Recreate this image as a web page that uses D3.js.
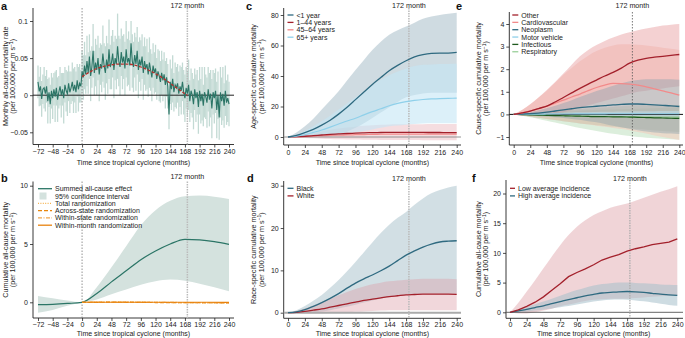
<!DOCTYPE html>
<html>
<head>
<meta charset="utf-8">
<script src="https://cdn.jsdelivr.net/npm/d3@7"></script>
<style>
  body { margin: 0; background: #fff; }
  svg { font-family: "Liberation Sans", Arial, sans-serif; }
  .axis text { font-size: 7px; fill: #222; }
  .axis line { stroke: #222; stroke-width: 0.8; }
  .axis path { display: none; }
  .atitle { font-size: 7.2px; fill: #222; }
  .xtitle { font-size: 7px; fill: #222; }
  .legend { font-size: 7px; fill: #222; }
  .letter { font-size: 11px; font-weight: bold; fill: #111; }
  .mark { font-size: 7.2px; fill: #222; }
</style>
</head>
<body>
<svg id="fig" width="685" height="338"></svg>
<script>
// ---- data ----
// panel a: monthly rate, every 2 months from -72 to 240
const aMonths = d3.range(-72, 241, 2);
const aRate = [
  0.018, 0.005, 0.012, -0.005, 0.008, 0.010,
  0.002, 0.012, -0.008, 0.004, -0.012, 0.006,
  -0.004, 0.008, -0.002, 0.010, -0.006, 0.004,
  0.012, 0.000, 0.008, -0.004, 0.014, 0.006,
  0.002, 0.016, 0.004, 0.010, 0.018, 0.006,
  0.014, 0.004, 0.020, 0.008, 0.016, 0.012,
  0.032, 0.024, 0.040, 0.028, 0.046, 0.030,
  0.052, 0.026, 0.038, 0.060, 0.030, 0.044,
  0.034, 0.050, 0.028, 0.042, 0.036, 0.056,
  0.040, 0.030, 0.048, 0.036, 0.062, 0.038,
  0.044, 0.056, 0.034, 0.050, 0.042, 0.066,
  0.046, 0.038, 0.058, 0.044, 0.052, 0.036,
  0.062, 0.044, 0.050, 0.040, 0.070, 0.046,
  0.038, 0.054, 0.042, 0.060, 0.034, 0.048,
  0.040, 0.052, 0.030, 0.046, 0.036, 0.042,
  0.028, 0.044, 0.034, 0.024, 0.040, 0.030,
  0.036, 0.022, 0.032, 0.026, 0.018, 0.030,
  0.020, 0.028, 0.014, 0.024, 0.012, -0.026,
  0.018, 0.008, 0.022, 0.004, 0.014, 0.010,
  0.016, 0.002, 0.012, 0.006, 0.018, 0.004,
  -0.004, 0.010, 0.002, 0.014, -0.008, 0.006,
  0.000, -0.012, 0.008, -0.004, 0.004, -0.016,
  0.006, -0.008, 0.002, -0.014, 0.004, -0.002,
  -0.010, 0.008, -0.006, 0.002, -0.018, 0.004,
  -0.004, 0.006, -0.020, 0.000, -0.030, 0.004,
  -0.008, 0.002, -0.014, 0.006, -0.010, -0.004,
  -0.012
];
const aSpread = [
  0.022, 0.020, 0.026, 0.024, 0.020, 0.028,
  0.024, 0.022, 0.030, 0.020, 0.026, 0.024,
  0.028, 0.022, 0.034, 0.024, 0.030, 0.022,
  0.026, 0.030, 0.022, 0.034, 0.024, 0.028,
  0.030, 0.024, 0.028, 0.022, 0.026, 0.030,
  0.024, 0.028, 0.022, 0.030, 0.026, 0.022,
  0.028, 0.030, 0.032, 0.026, 0.034, 0.028,
  0.030, 0.034, 0.028, 0.036, 0.030, 0.032,
  0.034, 0.030, 0.036, 0.028, 0.032, 0.038,
  0.030, 0.036, 0.032, 0.034, 0.040, 0.030,
  0.036, 0.032, 0.038, 0.030, 0.034, 0.044,
  0.034, 0.038, 0.032, 0.036, 0.030, 0.036,
  0.038, 0.032, 0.036, 0.034, 0.030, 0.036,
  0.034, 0.030, 0.036, 0.032, 0.038, 0.030,
  0.034, 0.030, 0.036, 0.032, 0.030, 0.034,
  0.030, 0.034, 0.028, 0.032, 0.030, 0.028,
  0.032, 0.028, 0.030, 0.034, 0.028, 0.030,
  0.028, 0.030, 0.032, 0.026, 0.030, 0.020,
  0.030, 0.028, 0.032, 0.026, 0.030, 0.028,
  0.026, 0.030, 0.028, 0.032, 0.026, 0.030,
  0.032, 0.028, 0.030, 0.034, 0.028, 0.030,
  0.030, 0.034, 0.028, 0.032, 0.030, 0.036,
  0.032, 0.030, 0.036, 0.028, 0.034, 0.030,
  0.034, 0.030, 0.036, 0.032, 0.040, 0.030,
  0.034, 0.030, 0.038, 0.032, 0.030, 0.034,
  0.032, 0.036, 0.030, 0.034, 0.030, 0.032,
  0.030
];
const aFitMonths = [0, 12, 24, 36, 48, 60, 72, 84, 96, 108, 120, 132, 144, 156, 168, 172];
const aFit = [0.025, 0.031, 0.036, 0.039, 0.041, 0.042, 0.042, 0.041, 0.038, 0.034, 0.029, 0.023, 0.016, 0.009, 0.002, 0.0];

// panel b
const bMonths = [-72, -48, -24, 0, 24, 48, 72, 96, 120, 144, 168, 192, 216, 240];
const bSummed = [-0.2, -0.17, -0.1, 0, 0.75, 1.75, 2.7, 3.65, 4.4, 5.0, 5.4, 5.35, 5.2, 4.97];
const bHi = [0.55, 0.35, 0.15, 0, 1.3, 3.0, 4.8, 6.6, 7.9, 8.7, 9.1, 9.15, 9.05, 8.85];
const bLo = [-0.9, -0.65, -0.3, 0, 0.25, 0.7, 1.1, 1.5, 1.8, 1.95, 1.85, 1.6, 1.3, 0.95];
const randMonths = [0, 24, 48, 72, 96, 120, 144, 168, 192, 216, 240];
const randTotal = [0, 0.01, 0.02, 0.02, 0.01, 0, -0.02, -0.03, -0.04, -0.05, -0.05];
const randAcross = [0, 0, 0.01, 0, -0.01, -0.02, -0.03, -0.02, -0.03, -0.04, -0.05];
const randWithinState = [0, 0.01, 0, 0.01, 0, -0.01, -0.01, -0.02, -0.02, -0.03, -0.03];
const randWithinMonth = [0, 0, 0, 0, 0, 0, 0, 0, 0, 0, -0.01];

// panels c-f share a 12-month grid
const gridMonths = d3.range(0, 241, 12);

const under1Mean = [0, 1, 2.8, 5, 7.8, 11, 15, 19.5, 24.5, 29.5, 34.5, 39, 43.5, 47, 50, 52.5, 54, 54.8, 55, 55, 55.5];
const under1Hi = [0, 3, 7, 12, 18, 24, 30, 37, 44, 50.5, 57, 62.5, 67, 70, 72.5, 75, 77.5, 79, 80, 80.8, 81.5];
const under1Lo = [0, 0, 0, 0, 0, 0.5, 1.5, 3.5, 6, 9, 12.5, 16, 19.5, 23, 26, 27.5, 28.5, 29, 29, 29, 29];
const age65Mean = [0, 0.5, 1.5, 3, 4.6, 6.5, 8.5, 10.5, 12.3, 14.5, 16.6, 18.5, 20.5, 22, 23.2, 24, 24.6, 25, 25.1, 25.3, 25.5];
const age65Hi = [0, 1.5, 4, 7, 10.5, 14, 18, 22, 26, 30, 34, 37.5, 40.5, 43, 45, 46.5, 47.3, 47.6, 47.8, 47.9, 48];
const age65Lo = [0, 0, 0, 0, 0, 0.5, 1, 2, 3, 4, 5, 6, 7, 7.5, 8, 8.5, 8.8, 9, 9, 9, 9];
const age1to44Mean = [0, 0.2, 0.5, 0.9, 1.3, 1.7, 2.0, 2.3, 2.5, 2.7, 2.85, 2.95, 3.0, 3.05, 3.05, 3.0, 3.0, 2.95, 2.95, 2.9, 2.9];
const age1to44Hi = [0, 0.8, 1.8, 2.8, 3.8, 4.7, 5.5, 6.2, 6.8, 7.3, 7.7, 8.0, 8.2, 8.3, 8.4, 8.4, 8.4, 8.5, 8.5, 8.5, 8.5];
const age1to44Lo = [0, -0.3, -0.6, -0.9, -1.1, -1.3, -1.5, -1.6, -1.7, -1.8, -1.8, -1.9, -1.9, -2.0, -2.0, -2.0, -2.1, -2.1, -2.2, -2.2, -2.2];
const age45to64Mean = [0, 0.1, 0.3, 0.5, 0.8, 1.0, 1.2, 1.35, 1.5, 1.6, 1.7, 1.8, 1.85, 1.9, 1.95, 1.95, 1.95, 1.9, 1.9, 1.9, 1.85];

const blackMean = [0, 0.2, 0.7, 1.5, 2.4, 3.4, 4.5, 5.8, 7.0, 8.0, 8.9, 9.9, 11.0, 12.3, 13.6, 14.6, 15.5, 16.2, 16.7, 16.9, 17.0];
const blackHi = [0, 0.6, 1.6, 2.8, 4.2, 5.9, 7.7, 9.8, 12, 14.3, 16.6, 18.8, 20.8, 22.4, 23.8, 25.5, 27, 28.2, 29, 29.6, 30];
const blackLo = [0, 0, 0, 0.1, 0.3, 0.6, 1, 1.4, 1.9, 2.4, 2.9, 3.3, 3.7, 4.0, 4.2, 4.4, 4.5, 4.5, 4.5, 4.5, 4.5];
const whiteMean = [0, 0.1, 0.3, 0.6, 0.9, 1.3, 1.7, 2.1, 2.5, 2.9, 3.2, 3.5, 3.8, 4.0, 4.2, 4.3, 4.4, 4.4, 4.4, 4.4, 4.35];
const whiteHi = [0, 0.4, 1.0, 1.7, 2.5, 3.3, 4.1, 4.9, 5.6, 6.2, 6.7, 7.1, 7.4, 7.6, 7.8, 7.9, 8.0, 8.0, 8.0, 8.0, 7.9];
const whiteLo = [0, -0.1, -0.2, -0.2, -0.2, -0.1, 0, 0.1, 0.2, 0.3, 0.4, 0.5, 0.6, 0.6, 0.6, 0.6, 0.6, 0.6, 0.6, 0.6, 0.6];

const otherMean = [0, 0.07, 0.15, 0.26, 0.37, 0.55, 0.75, 0.95, 1.15, 1.34, 1.52, 1.7, 1.86, 2.05, 2.27, 2.4, 2.48, 2.53, 2.57, 2.61, 2.65];
const otherHi = [0, 0.2, 0.45, 0.75, 1.08, 1.43, 1.81, 2.2, 2.57, 2.85, 3.07, 3.25, 3.4, 3.53, 3.63, 3.72, 3.8, 3.87, 3.93, 3.97, 4.0];
const otherLo = [0, -0.05, -0.05, -0.05, 0, 0.05, 0.1, 0.2, 0.3, 0.4, 0.5, 0.6, 0.7, 0.8, 0.9, 1.0, 1.05, 1.1, 1.15, 1.2, 1.25];
const cardioMean = [0, 0.07, 0.16, 0.26, 0.37, 0.5, 0.63, 0.77, 0.9, 1.05, 1.19, 1.3, 1.37, 1.36, 1.34, 1.3, 1.22, 1.13, 1.04, 0.95, 0.85];
const cardioHi = [0, 0.2, 0.45, 0.75, 1.05, 1.4, 1.75, 2.05, 2.35, 2.6, 2.8, 2.95, 3.05, 3.1, 3.1, 3.08, 3.05, 3.0, 2.95, 2.9, 2.85];
const cardioLo = [0, -0.05, -0.1, -0.15, -0.2, -0.25, -0.3, -0.35, -0.4, -0.45, -0.5, -0.55, -0.6, -0.65, -0.7, -0.78, -0.85, -0.93, -1.0, -1.07, -1.13];
const neoMean = [0, 0.01, 0.03, 0.06, 0.1, 0.15, 0.2, 0.25, 0.3, 0.33, 0.36, 0.39, 0.42, 0.44, 0.46, 0.46, 0.44, 0.42, 0.4, 0.38, 0.35];
const neoHi = [0, 0.05, 0.1, 0.18, 0.27, 0.38, 0.5, 0.63, 0.77, 0.9, 1.03, 1.15, 1.27, 1.38, 1.47, 1.52, 1.55, 1.56, 1.56, 1.55, 1.53];
const neoLo = [0, -0.03, -0.05, -0.08, -0.1, -0.13, -0.16, -0.2, -0.24, -0.3, -0.35, -0.42, -0.5, -0.57, -0.63, -0.7, -0.76, -0.8, -0.83, -0.85, -0.87];
const motorMean = [0, 0.005, 0.01, 0.01, 0.015, 0.02, 0.02, 0.02, 0.025, 0.025, 0.025, 0.025, 0.03, 0.03, 0.03, 0.03, 0.03, 0.03, 0.03, 0.03, 0.03];
const motorHi = [0, 0.02, 0.03, 0.04, 0.05, 0.06, 0.07, 0.08, 0.09, 0.1, 0.11, 0.12, 0.12, 0.13, 0.13, 0.14, 0.14, 0.14, 0.15, 0.15, 0.15];
const motorLo = [0, -0.01, -0.02, -0.03, -0.03, -0.04, -0.05, -0.05, -0.06, -0.06, -0.07, -0.07, -0.07, -0.08, -0.08, -0.08, -0.08, -0.09, -0.09, -0.09, -0.09];
const infectMean = [0, -0.01, -0.02, -0.03, -0.04, -0.05, -0.06, -0.07, -0.08, -0.09, -0.1, -0.1, -0.11, -0.11, -0.12, -0.13, -0.14, -0.15, -0.16, -0.17, -0.18];
const infectHi = [0, 0.03, 0.06, 0.09, 0.12, 0.15, 0.18, 0.21, 0.24, 0.26, 0.28, 0.31, 0.33, 0.36, 0.38, 0.39, 0.4, 0.41, 0.41, 0.42, 0.42];
const infectLo = [0, -0.05, -0.1, -0.15, -0.2, -0.25, -0.3, -0.35, -0.4, -0.44, -0.48, -0.51, -0.55, -0.58, -0.62, -0.65, -0.68, -0.71, -0.73, -0.76, -0.78];
const respMean = [0, -0.005, -0.01, -0.02, -0.03, -0.04, -0.05, -0.06, -0.07, -0.075, -0.08, -0.085, -0.09, -0.095, -0.1, -0.105, -0.11, -0.115, -0.12, -0.12, -0.12];
const respHi = [0, 0.02, 0.04, 0.06, 0.08, 0.1, 0.12, 0.14, 0.16, 0.18, 0.2, 0.21, 0.22, 0.23, 0.24, 0.25, 0.26, 0.27, 0.28, 0.29, 0.3];
const respLo = [0, -0.06, -0.13, -0.2, -0.28, -0.36, -0.44, -0.52, -0.6, -0.67, -0.74, -0.8, -0.86, -0.91, -0.96, -1.0, -1.03, -1.06, -1.08, -1.1, -1.12];

const lowIncMean = [0, 0.4, 1.0, 1.7, 2.6, 3.7, 4.8, 6.0, 6.7, 7.3, 8.0, 8.8, 9.3, 9.7, 10.3, 10.7, 11.0, 11.4, 11.6, 11.8, 12.35];
const lowIncHi = [0, 1.6, 3.5, 5.4, 7.4, 9.4, 11.3, 13.0, 14.4, 15.5, 16.4, 17.0, 17.6, 18.0, 18.3, 18.8, 19.3, 19.8, 20.3, 20.7, 21.2];
const lowIncLo = [0, -0.2, -0.2, 0, 0.3, 0.6, 1.0, 1.3, 1.6, 1.9, 2.1, 2.2, 2.3, 2.3, 2.3, 2.4, 2.5, 2.6, 2.7, 2.8, 2.9];
const highIncMean = [0, 0.25, 0.5, 0.8, 1.1, 1.45, 1.8, 2.15, 2.45, 2.75, 3.0, 3.25, 3.35, 3.45, 3.5, 3.45, 3.35, 3.2, 3.05, 2.95, 2.85];
const highIncHi = [0, 0.45, 0.9, 1.35, 1.8, 2.3, 2.8, 3.3, 3.75, 4.15, 4.5, 4.75, 4.9, 5.0, 5.0, 4.95, 4.9, 4.8, 4.7, 4.65, 4.6];
const highIncLo = [0, 0.05, 0.15, 0.3, 0.45, 0.65, 0.85, 1.05, 1.3, 1.55, 1.8, 2.0, 2.1, 2.15, 2.1, 2.0, 1.85, 1.65, 1.45, 1.25, 1.1];

const ticksFull = [-72, -48, -24, 0, 24, 48, 72, 96, 120, 144, 168, 192, 216, 240];
const ticksPost = [0, 24, 48, 72, 96, 120, 144, 168, 192, 216, 240];
const markMonth = 172;

// ---- drawing ----
const svg = d3.select("#fig");
const fmt = d => (d < 0 ? "\u2212" + Math.abs(d) : "" + d);

function panel(p) {
  let g = svg.append("g");
  let x = d3.scaleLinear().domain(p.xd).range(p.xr);
  let y = d3.scaleLinear().domain(p.yd).range(p.yr);
  g.append("g").attr("class", "axis").attr("transform", `translate(0,${p.bottom})`)
    .call(d3.axisBottom(x).tickValues(p.xt).tickSize(3).tickPadding(p.pad).tickFormat(fmt));
  g.append("g").attr("class", "axis").attr("transform", `translate(${p.left},0)`)
    .call(d3.axisLeft(y).tickValues(p.yt).tickSize(3).tickPadding(2).tickFormat(fmt));
  g.append("line").attr("x1", p.left).attr("x2", p.right).attr("y1", p.bottom).attr("y2", p.bottom)
    .attr("stroke", "#222").attr("stroke-width", 0.9);
  g.append("line").attr("x1", p.left).attr("x2", p.left).attr("y1", p.top).attr("y2", p.bottom)
    .attr("stroke", "#222").attr("stroke-width", 0.9);
  // axis titles
  g.append("text").attr("class", "xtitle").attr("x", (x(p.xd[0]) + x(p.xd[1])) / 2).attr("y", p.bottom + p.titleGap)
    .attr("text-anchor", "middle").text("Time since tropical cyclone (months)");
  let yt = g.append("g").attr("transform", `translate(${p.tx},${(p.top + p.bottom) / 2}) rotate(-90)`);
  yt.append("text").attr("class", "atitle").attr("text-anchor", "middle").text(p.ytitle);
  let t2 = yt.append("text").attr("class", "atitle").attr("text-anchor", "middle").attr("y", 7.6);
  t2.append("tspan").text("(per 100,000 per m s");
  t2.append("tspan").attr("font-size", "5px").attr("dy", -2.6).text("\u22121");
  t2.append("tspan").attr("dy", 2.6).text(")");
  // panel letter
  svg.append("text").attr("class", "letter").attr("x", p.lx).attr("y", p.ly).text(p.letter);
  return { g: g, x: x, y: y, p: p };
}

function vline(P, m, color, width, dash) {
  P.g.append("line").attr("x1", P.x(m)).attr("x2", P.x(m)).attr("y1", P.p.top).attr("y2", P.p.bottom)
    .attr("stroke", color).attr("stroke-width", width).attr("stroke-dasharray", dash);
}
function markLabel(P, yy) {
  P.g.append("text").attr("class", "mark").attr("x", P.x(markMonth)).attr("y", yy)
    .attr("text-anchor", "middle").text("172 month");
}
function zeroLine(P, color, width) {
  P.g.append("line").attr("x1", P.p.left).attr("x2", P.p.right).attr("y1", P.y(0)).attr("y2", P.y(0))
    .attr("stroke", color).attr("stroke-width", width);
}
function band(P, months, lo, hi, fill, op) {
  let area = d3.area().curve(d3.curveMonotoneX)
    .x((d, i) => P.x(months[i])).y0((d, i) => P.y(lo[i])).y1((d, i) => P.y(hi[i]));
  P.g.append("path").attr("d", area(months)).attr("fill", fill).attr("fill-opacity", op);
}
function curve(P, months, vals, color, width, dash, curveType) {
  let line = d3.line().curve(curveType || d3.curveMonotoneX)
    .x((d, i) => P.x(months[i])).y((d, i) => P.y(vals[i]));
  P.g.append("path").attr("d", line(months)).attr("fill", "none").attr("stroke", color)
    .attr("stroke-width", width).attr("stroke-dasharray", dash || null);
}
function legend(P, items, lx, ly, step) {
  items.forEach((it, i) => {
    let yy = ly + i * step;
    if (it.box) {
      P.g.append("rect").attr("x", lx + 1.5).attr("y", yy - 3.5).attr("width", 7).attr("height", 7).attr("fill", it.box);
    } else {
      P.g.append("line").attr("x1", lx).attr("x2", lx + it.len).attr("y1", yy).attr("y2", yy)
        .attr("stroke", it.color).attr("stroke-width", it.w || 1.3).attr("stroke-dasharray", it.dash || null);
    }
    P.g.append("text").attr("class", "legend").attr("x", lx + it.len + 3).attr("y", yy + 2.5).text(it.label);
  });
}

const teal = "#2b7566";
const navy = "#2f6a80";
const darkRed = "#a3202b";
const pink = "#f28a8a";
const skyBlue = "#8fd0ea";

// ---------- a ----------
let A = panel({ xd: [-72, 240], xr: [38, 229], yd: [-0.05, 0.1], yr: [132.3, 21], xt: ticksFull, yt: [-0.05, 0, 0.05, 0.1],
  left: 33, right: 234, top: 8, bottom: 144.5, pad: 2, titleGap: 20, tx: 7.5, ytitle: "Monthly all-cause mortality rate", letter: "a", lx: 1, ly: 10 });
A.g.selectAll("line.err").data(aMonths).join("line").attr("class", "err")
  .attr("x1", d => A.x(d)).attr("x2", d => A.x(d))
  .attr("y1", (d, i) => A.y(aRate[i] - aSpread[i])).attr("y2", (d, i) => A.y(aRate[i] + aSpread[i]))
  .attr("stroke", "#c3dad4").attr("stroke-width", 1.3);
vline(A, 0, "#777", 0.8, "1.5,1.5");
vline(A, markMonth, "#bbb", 1.5, "1.5,1");
markLabel(A, 8);
zeroLine(A, "#222", 1);
curve(A, aMonths, aRate, teal, 1.1, null, d3.curveLinear);
curve(A, aFitMonths, aFit, "#b5312c", 1.3, "3,1.6");

// ---------- b ----------
let B = panel({ xd: [-72, 240], xr: [38, 229], yd: [0, 10], yr: [302.3, 185.7], xt: ticksFull, yt: [0, 5, 10],
  left: 33, right: 234, top: 181.5, bottom: 318, pad: 1, titleGap: 17.8, tx: 7.5, ytitle: "Cumulative all-cause mortality", letter: "b", lx: 1, ly: 182 });
band(B, bMonths, bLo, bHi, "#d4e2de", 1);
vline(B, 0, "#777", 0.8, "1.5,1.5");
vline(B, markMonth, "#bbb", 1.5, "1.5,1");
markLabel(B, 178.5);
curve(B, bMonths, bSummed, teal, 1.2);
curve(B, randMonths, randTotal, "#f6b24e", 1.2, "1,1.4");
curve(B, randMonths, randAcross, "#e8860c", 1.2, "4,2");
curve(B, randMonths, randWithinState, "#f0a64e", 1.2, "4,1.5,1,1.5");
curve(B, randMonths, randWithinMonth, "#e8820e", 1.1);
legend(B, [
  { label: "Summed all-cause effect", color: teal, len: 14 },
  { label: "95% confidence interval", box: "#d4e2de", len: 14 },
  { label: "Total randomization", color: "#f6b24e", len: 14, dash: "1,1.4" },
  { label: "Across-state randomization", color: "#e8860c", len: 14, dash: "4,2" },
  { label: "Within-state randomization", color: "#f0a64e", len: 14, dash: "4,1.5,1,1.5" },
  { label: "Within-month randomization", color: "#e8820e", len: 14 }
], 38, 188.7, 7.3);

// ---------- c ----------
let C = panel({ xd: [0, 240], xr: [288, 456.7], yd: [0, 80], yr: [137, 15], xt: ticksPost, yt: [0, 20, 40, 60, 80],
  left: 283.7, right: 461, top: 8, bottom: 145, pad: 2, titleGap: 20, tx: 256, ytitle: "Age-specific cumulative mortality", letter: "c", lx: 246, ly: 10 });
band(C, gridMonths, age1to44Lo, age1to44Hi, "#e8b3ba", 0.45);
band(C, gridMonths, under1Lo, under1Hi, "#9fb8c4", 0.5);
band(C, gridMonths, age65Lo, age65Hi, "#c4e6f5", 0.6);
zeroLine(C, "#888", 0.9);
vline(C, markMonth, "#bbb", 1.5, "1.5,1");
markLabel(C, 7.5);
curve(C, gridMonths, age45to64Mean, pink, 1.2);
curve(C, gridMonths, age1to44Mean, darkRed, 1.3);
curve(C, gridMonths, age65Mean, skyBlue, 1.2);
curve(C, gridMonths, under1Mean, navy, 1.3);
legend(C, [
  { label: "<1 year", color: navy, len: 6 },
  { label: "1\u201344 years", color: darkRed, len: 6 },
  { label: "45\u201364 years", color: pink, len: 6 },
  { label: "65+ years", color: skyBlue, len: 6 }
], 287.5, 15, 7.4);

// ---------- d ----------
let D = panel({ xd: [0, 240], xr: [288, 456.7], yd: [0, 30], yr: [312.7, 185.7], xt: ticksPost, yt: [0, 10, 20, 30],
  left: 283.7, right: 461, top: 181, bottom: 318.3, pad: 1, titleGap: 17.5, tx: 256, ytitle: "Race-specific cumulative mortality", letter: "d", lx: 247, ly: 182 });
band(D, gridMonths, blackLo, blackHi, "#a6bfca", 0.5);
band(D, gridMonths, whiteLo, whiteHi, "#dc9ca4", 0.4);
zeroLine(D, "#aaa", 2);
vline(D, markMonth, "#bbb", 1.5, "1.5,1");
markLabel(D, 180.5);
curve(D, gridMonths, whiteMean, darkRed, 1.3);
curve(D, gridMonths, blackMean, navy, 1.3);
legend(D, [
  { label: "Black", color: navy, len: 6 },
  { label: "White", color: darkRed, len: 6 }
], 287.5, 188.3, 7.6);

// ---------- e ----------
let E = panel({ xd: [0, 240], xr: [513.7, 679.3], yd: [-1, 4], yr: [137, 24], xt: ticksPost, yt: [-1, 0, 1, 2, 3, 4],
  left: 509.3, right: 683, top: 12, bottom: 145, pad: 2, titleGap: 20, tx: 480.5, ytitle: "Cause-specific cumulative mortality", letter: "e", lx: 456, ly: 10 });
band(E, gridMonths, respLo, respHi, "#bfe0bf", 0.55);
band(E, gridMonths, infectLo, infectHi, "#7fa87f", 0.3);
band(E, gridMonths, cardioLo, cardioHi, "#f8c0b4", 0.45);
band(E, gridMonths, otherLo, otherHi, "#e79a9c", 0.45);
band(E, gridMonths, neoLo, neoHi, "#8ea4b0", 0.45);
band(E, gridMonths, motorLo, motorHi, "#bfe4f3", 0.5);
zeroLine(E, "#111", 1);
vline(E, markMonth, "#555", 0.8, "1.5,1.5");
markLabel(E, 7.5);
curve(E, gridMonths, respMean, "#9ad09a", 1.2);
curve(E, gridMonths, infectMean, "#1e5a1e", 1.2);
curve(E, gridMonths, motorMean, skyBlue, 1.1);
curve(E, gridMonths, neoMean, navy, 1.3);
curve(E, gridMonths, cardioMean, pink, 1.3);
curve(E, gridMonths, otherMean, darkRed, 1.3);
legend(E, [
  { label: "Other", color: darkRed, len: 6 },
  { label: "Cardiovascular", color: pink, len: 6 },
  { label: "Neoplasm", color: navy, len: 6 },
  { label: "Motor vehicle", color: skyBlue, len: 6 },
  { label: "Infectious", color: "#1e5a1e", len: 6 },
  { label: "Respiratory", color: "#9ad09a", len: 6 }
], 512.3, 15, 7.35);

// ---------- f ----------
let F = panel({ xd: [0, 240], xr: [510, 677.3], yd: [0, 20], yr: [312.3, 193.5], xt: ticksPost, yt: [0, 5, 10, 15, 20],
  left: 506, right: 683, top: 180, bottom: 318.3, pad: 1, titleGap: 17.5, tx: 480.5, ytitle: "Cumulative all-cause mortality", letter: "f", lx: 472, ly: 182 });
band(F, gridMonths, lowIncLo, lowIncHi, "#e2aab0", 0.5);
band(F, gridMonths, highIncLo, highIncHi, "#a6bfca", 0.55);
zeroLine(F, "#555", 0.9);
vline(F, markMonth, "#aaa", 1.2, "1.5,1");
markLabel(F, 181);
curve(F, gridMonths, highIncMean, navy, 1.3);
curve(F, gridMonths, lowIncMean, darkRed, 1.3, null, d3.curveLinear);
legend(F, [
  { label: "Low average incidence", color: darkRed, len: 5 },
  { label: "High average incidence", color: navy, len: 5 }
], 510, 188.3, 7.6);
</script>
</body>
</html>
